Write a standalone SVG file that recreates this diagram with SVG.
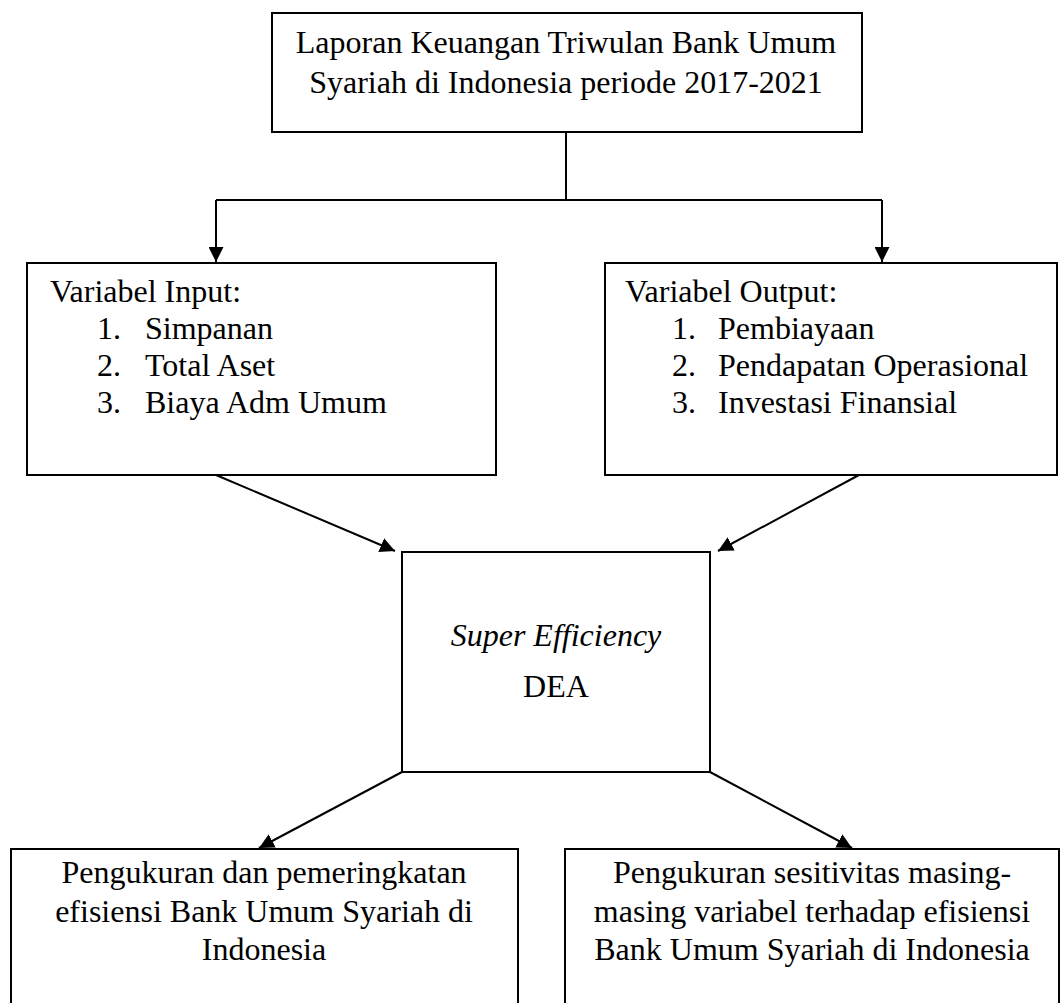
<svg xmlns="http://www.w3.org/2000/svg" width="1061" height="1003" viewBox="0 0 1061 1003">
<defs>
<marker id="ah" viewBox="0 0 15 15" refX="15" refY="7.5" markerWidth="15" markerHeight="15" markerUnits="userSpaceOnUse" orient="auto">
<path d="M0,0 L15,7.5 L0,15 z" fill="#000"/>
</marker>
<style>
.box{fill:#fff;stroke:#000;stroke-width:2}
.t{font-family:"Liberation Serif","Times New Roman",serif;font-size:32px;fill:#000}
.c{text-anchor:middle}
.ln{fill:none;stroke:#000;stroke-width:2}
</style>
</defs>
<rect width="1061" height="1003" fill="#fff"/>
<g id="connectors">
<path class="ln" d="M566,132 V200"/>
<path class="ln" d="M216,200 H882"/>
<path class="ln" d="M216,200 V262" marker-end="url(#ah)"/>
<path class="ln" d="M882,200 V262" marker-end="url(#ah)"/>
<path class="ln" d="M216,475 L395,551" marker-end="url(#ah)"/>
<path class="ln" d="M859,475 L718,551" marker-end="url(#ah)"/>
<path class="ln" d="M402,772 L259,848" marker-end="url(#ah)"/>
<path class="ln" d="M710,772 L852,848" marker-end="url(#ah)"/>
</g>
<g id="top">
<rect class="box" x="272" y="13" width="590" height="119"/>
<text class="t c" x="566" y="53">Laporan Keuangan Triwulan Bank Umum</text>
<text class="t c" x="566" y="93">Syariah di Indonesia periode 2017-2021</text>
</g>
<g id="input">
<rect class="box" x="27" y="263" width="469" height="212"/>
<text class="t" x="50" y="302">Variabel Input:</text>
<text class="t" x="97" y="339">1.</text><text class="t" x="145" y="339">Simpanan</text>
<text class="t" x="97" y="376">2.</text><text class="t" x="145" y="376">Total Aset</text>
<text class="t" x="97" y="413">3.</text><text class="t" x="145" y="413">Biaya Adm Umum</text>
</g>
<g id="output">
<rect class="box" x="605" y="263" width="452" height="212"/>
<text class="t" x="625" y="302">Variabel Output:</text>
<text class="t" x="672" y="339">1.</text><text class="t" x="718" y="339">Pembiayaan</text>
<text class="t" x="672" y="376">2.</text><text class="t" x="718" y="376">Pendapatan Operasional</text>
<text class="t" x="672" y="413">3.</text><text class="t" x="718" y="413">Investasi Finansial</text>
</g>
<g id="dea">
<rect class="box" x="402" y="552" width="308" height="220"/>
<text class="t c" x="556" y="646" font-size="37" font-style="italic">Super Efficiency</text>
<text class="t c" x="556" y="697" font-size="37">DEA</text>
</g>
<g id="result1">
<rect class="box" x="11" y="849" width="507" height="170"/>
<text class="t c" x="264" y="883">Pengukuran dan pemeringkatan</text>
<text class="t c" x="264" y="922">efisiensi Bank Umum Syariah di</text>
<text class="t c" x="264" y="960">Indonesia</text>
</g>
<g id="result2">
<rect class="box" x="565" y="849" width="494" height="170"/>
<text class="t c" x="812" y="883">Pengukuran sesitivitas masing-</text>
<text class="t c" x="812" y="922">masing variabel terhadap efisiensi</text>
<text class="t c" x="812" y="960">Bank Umum Syariah di Indonesia</text>
</g>
</svg>
